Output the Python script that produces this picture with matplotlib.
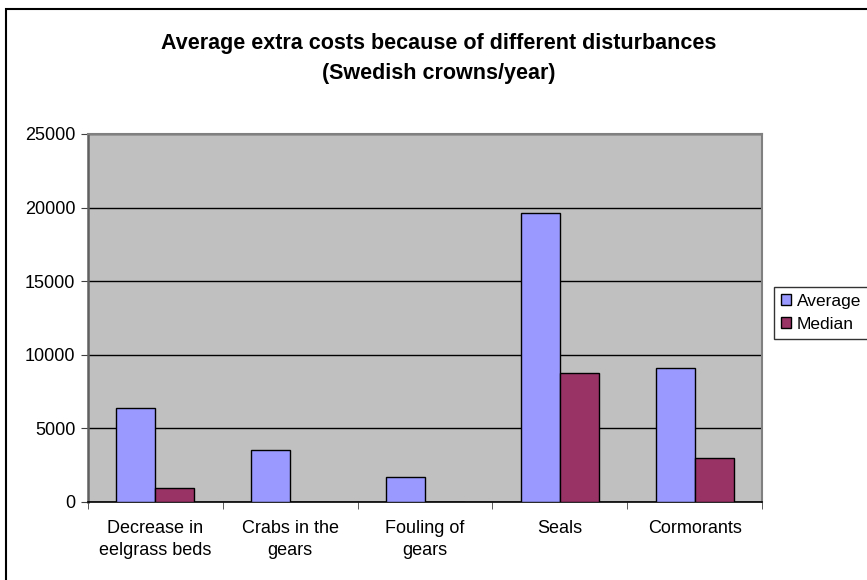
import matplotlib.pyplot as plt
import numpy as np
from matplotlib.patches import Rectangle

plt.rcParams["font.family"] = ["Liberation Sans", "DejaVu Sans"]

categories = [
    "Decrease in\neelgrass beds",
    "Crabs in the\ngears",
    "Fouling of\ngears",
    "Seals",
    "Cormorants",
]
average = [6400, 3500, 1700, 19600, 9100]
median = [950, 0, 0, 8750, 3000]
yticks = [0, 5000, 10000, 15000, 20000, 25000]

fig = plt.figure(figsize=(8.67, 5.8), dpi=100)
ax = fig.add_axes([88 / 867, 1 - 502 / 580, (762 - 88) / 867, (502 - 134) / 580])

# outer chart frame (right/bottom edges fall outside the image)
fig.patches.append(
    Rectangle((6 / 867, -0.05), 1.1, 1 - 9 / 580 + 0.05,
              transform=fig.transFigure, fill=False, edgecolor="black", lw=1.5)
)

x = np.arange(len(categories))
w = 0.29
ax.set_facecolor("#C0C0C0")
ax.bar(x - w / 2, average, w, color="#9999FF", edgecolor="black", lw=1,
       label="Average", zorder=3)
ax.bar(x + w / 2, median, w, color="#993366", edgecolor="black", lw=1,
       label="Median", zorder=3)

ax.set_xlim(-0.5, len(categories) - 0.5)
ax.set_ylim(0, 25000)
ax.set_yticks(yticks)
ax.set_yticklabels([str(v) for v in yticks], fontsize=13)
ax.yaxis.grid(True, color="black", lw=1, zorder=1)

ax.set_xticks(x)
ax.set_xticklabels(categories, fontsize=13, linespacing=1.35)
ax.tick_params(axis="x", length=0, pad=13)
ax.set_xticks(np.arange(-0.5, len(categories)), minor=True)
ax.tick_params(axis="x", which="minor", length=5, direction="out", color="#404040")
ax.tick_params(axis="y", length=5, direction="out", color="#404040", pad=4)

for side in ["top", "right"]:
    ax.spines[side].set_color("#808080")
    ax.spines[side].set_linewidth(1.5)
ax.spines["left"].set_color("#606060")
ax.spines["left"].set_linewidth(1.8)
ax.spines["bottom"].set_color("black")
ax.spines["bottom"].set_linewidth(1.2)

fig.text(0.506, 1 - 44 / 580, "Average extra costs because of different disturbances",
         ha="center", va="center", fontsize=15.5, fontweight="bold")
fig.text(0.506, 1 - 74 / 580, "(Swedish crowns/year)",
         ha="center", va="center", fontsize=15.5, fontweight="bold")

# legend box runs off the right edge like the original
leg = fig.legend(loc="upper left", bbox_to_anchor=(774 / 867, 1 - 287 / 580),
                 fontsize=12.5, fancybox=False, edgecolor="black",
                 handlelength=0.6, handleheight=0.6, handletextpad=0.3,
                 borderpad=0.4, labelspacing=0.45, borderaxespad=0)
leg.get_frame().set_linewidth(1)

fig.savefig("out.png", dpi=100)
